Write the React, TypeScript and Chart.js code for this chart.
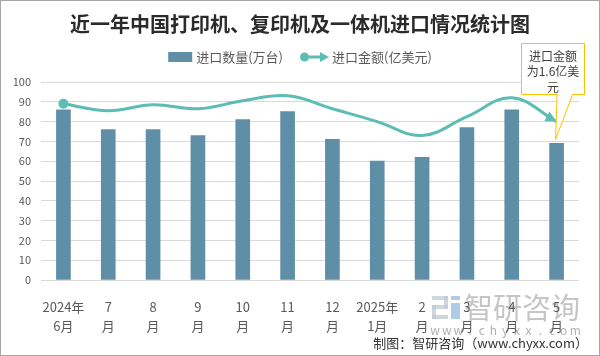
import React, { useEffect, useRef } from "react";
import { Chart, registerables } from "chart.js";

Chart.register(...registerables);

const categories: string[][] = [
  ["2024年", "6月"], ["7", "月"], ["8", "月"], ["9", "月"], ["10", "月"], ["11", "月"],
  ["12", "月"], ["2025年", "1月"], ["2", "月"], ["3", "月"], ["4", "月"], ["5", "月"],
];
const importQty: number[] = [86, 76, 76, 73, 81, 85, 71, 60, 62, 77, 86, 69];
const importValue: number[] = [1.78, 1.71, 1.77, 1.73, 1.81, 1.86, 1.73, 1.6, 1.46, 1.65, 1.84, 1.6];
const yTicks: number[] = [0, 10, 20, 30, 40, 50, 60, 70, 80, 90, 100];
const seriesNames: string[] = ["进口数量(万台)", "进口金额(亿美元)"];
const titleText = "近一年中国打印机、复印机及一体机进口情况统计图";
const calloutLines: string[] = ["进口金额", "为1.6亿美", "元"];
const footerText = "制图：智研咨询（www.chyxx.com）";
const watermarkName = "智研咨询";
const watermarkUrl = "www.chyxx.com";

const BAR = "#5E8FA7";
const LINE = "#5DBDB4";
const FONT = '"Noto Sans CJK SC", "Noto Sans", sans-serif';

function arrowHead(ctx: CanvasRenderingContext2D, x: number, y: number, ang: number, len: number, hw: number) {
  ctx.save();
  ctx.translate(x, y);
  ctx.rotate(ang);
  ctx.beginPath();
  ctx.moveTo(0, 0);
  ctx.lineTo(-len, -hw);
  ctx.lineTo(-len, hw);
  ctx.closePath();
  ctx.fill();
  ctx.restore();
}

const decor = {
  id: "decor",
  beforeDraw(chart: any) {
    const ctx: CanvasRenderingContext2D = chart.ctx;
    ctx.save();
    ctx.fillStyle = "#ffffff";
    ctx.fillRect(0, 0, chart.width, chart.height);
    // watermark logo
    const lx = 431, ly = 295;
    ctx.fillStyle = "rgba(190,200,212,0.75)";
    ctx.fillRect(lx, ly, 16, 4);
    ctx.fillRect(lx + 12, ly, 4, 12);
    ctx.fillRect(lx, ly + 9, 16, 4);
    ctx.fillRect(lx, ly + 9, 4, 14);
    ctx.fillRect(lx, ly + 19, 16, 4);
    ctx.fillStyle = "rgba(150,185,225,0.75)";
    ctx.fillRect(lx + 19, ly, 9, 4);
    ctx.fillRect(lx + 19, ly + 7, 9, 16);
    ctx.fillStyle = "rgba(150,150,150,0.55)";
    ctx.font = "29px " + FONT;
    ctx.textAlign = "left";
    ctx.textBaseline = "middle";
    ctx.fillText(watermarkName, 463, 307);
    ctx.fillStyle = "rgba(150,150,150,0.75)";
    ctx.font = "12px " + FONT;
    ctx.textAlign = "center";
    const chars = watermarkUrl.split("");
    chars.forEach((c, i) => ctx.fillText(c, 434 + i * 11.7, 329));
    ctx.restore();
  },
  afterDatasetsDraw(chart: any) {
    const ctx: CanvasRenderingContext2D = chart.ctx;
    const meta = chart.getDatasetMeta(1);
    const pts = meta.data;
    const last = pts[pts.length - 1];
    const prev = pts[pts.length - 2];
    let cx = last.cp1x, cy = last.cp1y;
    if (cx === undefined || (Math.abs(cx - last.x) < 0.5 && Math.abs(cy - last.y) < 0.5)) {
      cx = prev.x; cy = prev.y;
    }
    const ang = Math.atan2(last.y - cy, last.x - cx);
    ctx.save();
    ctx.fillStyle = LINE;
    arrowHead(ctx, last.x, last.y, ang, 11, 5.5);
    ctx.restore();
  },
  afterDraw(chart: any) {
    const ctx: CanvasRenderingContext2D = chart.ctx;
    const W = chart.width;
    ctx.save();
    // title
    ctx.fillStyle = "#2b2b2b";
    ctx.font = "bold 20px " + FONT;
    ctx.textAlign = "center";
    ctx.textBaseline = "middle";
    ctx.fillText(titleText, W / 2, 23);
    // legend
    ctx.font = "13px " + FONT;
    ctx.textAlign = "left";
    const w1 = ctx.measureText(seriesNames[0]).width;
    const w2 = ctx.measureText(seriesNames[1]).width;
    const total = 24 + 4 + w1 + 17 + 29 + 3 + w2;
    let x = (W - total) / 2;
    const ly = 56;
    ctx.fillStyle = BAR;
    ctx.fillRect(x, ly - 5, 24, 10);
    x += 28;
    ctx.fillStyle = "#595959";
    ctx.fillText(seriesNames[0], x, ly + 0.5);
    x += w1 + 17;
    ctx.strokeStyle = LINE;
    ctx.lineWidth = 3;
    ctx.beginPath();
    ctx.moveTo(x + 3, ly);
    ctx.lineTo(x + 22, ly);
    ctx.stroke();
    ctx.fillStyle = LINE;
    ctx.beginPath();
    ctx.arc(x + 4.5, ly, 4.5, 0, Math.PI * 2);
    ctx.fill();
    arrowHead(ctx, x + 29, ly, 0, 9, 5);
    x += 32;
    ctx.fillStyle = "#595959";
    ctx.fillText(seriesNames[1], x, ly + 0.5);

    // callout
    const bar = chart.getDatasetMeta(0).data[importQty.length - 1];
    const bx = bar.x, by = bar.y;
    const left = Math.round(bx - 36) + 0.5;
    const right = Math.round(bx + 27) + 0.5;
    const top = Math.round(chart.chartArea.top - 39) + 0.5;
    const bottom = top + 51;
    const tipX = bx - 1, tipY = by - 4;
    ctx.beginPath();
    ctx.moveTo(left, top);
    ctx.lineTo(right, top);
    ctx.lineTo(right, bottom);
    ctx.lineTo(bx + 16, bottom);
    ctx.lineTo(tipX, tipY);
    ctx.lineTo(bx + 0.5, bottom);
    ctx.lineTo(left, bottom);
    ctx.closePath();
    ctx.fillStyle = "#ffffff";
    ctx.fill();
    ctx.strokeStyle = "#FFC000";
    ctx.lineWidth = 1;
    ctx.stroke();
    ctx.fillStyle = "#404040";
    ctx.font = "12px " + FONT;
    ctx.textAlign = "center";
    const tcx = (left + right) / 2;
    calloutLines.forEach((t, i) => ctx.fillText(t, tcx, top + 12.5 + i * 15.5));

    // footer
    ctx.fillStyle = "#333333";
    ctx.font = "13px " + FONT;
    ctx.textAlign = "right";
    ctx.fillText(footerText, 587, 342);
    ctx.restore();
  },
};

export default function App() {
  const ref = useRef<HTMLCanvasElement | null>(null);
  useEffect(() => {
    document.body.style.margin = "0";
    const canvas = ref.current;
    if (!canvas) return;
    const chart = new Chart(canvas, {
      type: "bar",
      data: {
        labels: categories,
        datasets: [
          {
            type: "bar",
            label: seriesNames[0],
            data: importQty,
            backgroundColor: BAR,
            barThickness: 14,
            yAxisID: "y",
            order: 2,
          },
          {
            type: "line",
            label: seriesNames[1],
            data: importValue,
            borderColor: LINE,
            backgroundColor: LINE,
            borderWidth: 3,
            tension: 0.4,
            pointRadius: importValue.map((_, i) => (i === 0 ? 5 : 0)),
            pointHoverRadius: 0,
            pointBorderWidth: 0,
            yAxisID: "y1",
            order: 1,
          } as any,
        ],
      },
      options: {
        responsive: false,
        animation: false,
        devicePixelRatio: 1,
        layout: { padding: { left: 0, right: 20, top: 81, bottom: 0 } },
        plugins: {
          legend: { display: false },
          title: { display: false },
          tooltip: { enabled: false },
        },
        scales: {
          x: {
            grid: { display: false },
            border: { display: false },
            ticks: {
              color: "#595959",
              font: { family: FONT, size: 13, lineHeight: 1.46 },
              padding: 10,
              maxRotation: 0,
              autoSkip: false,
            },
            afterFit: (s: any) => { s.height = 75; },
          },
          y: {
            min: yTicks[0],
            max: yTicks[yTicks.length - 1],
            grid: { color: "#D9D9D9", lineWidth: 1, drawTicks: false },
            border: { display: false },
            ticks: {
              stepSize: yTicks[1] - yTicks[0],
              color: "#595959",
              font: { family: FONT, size: 11 },
              padding: 10,
            },
            afterFit: (s: any) => { s.width = 40; },
          },
          y1: {
            display: false,
            min: 0,
            max: 2,
          },
        },
      },
      plugins: [decor],
    });
    return () => chart.destroy();
  }, []);
  return (
    <div
      style={{
        width: 600,
        height: 356,
        boxSizing: "border-box",
        border: "1px solid #A6A6A6",
        background: "#fff",
        overflow: "hidden",
      }}
    >
      <canvas ref={ref} width={598} height={354} style={{ display: "block", width: 598, height: 354 }} />
    </div>
  );
}
